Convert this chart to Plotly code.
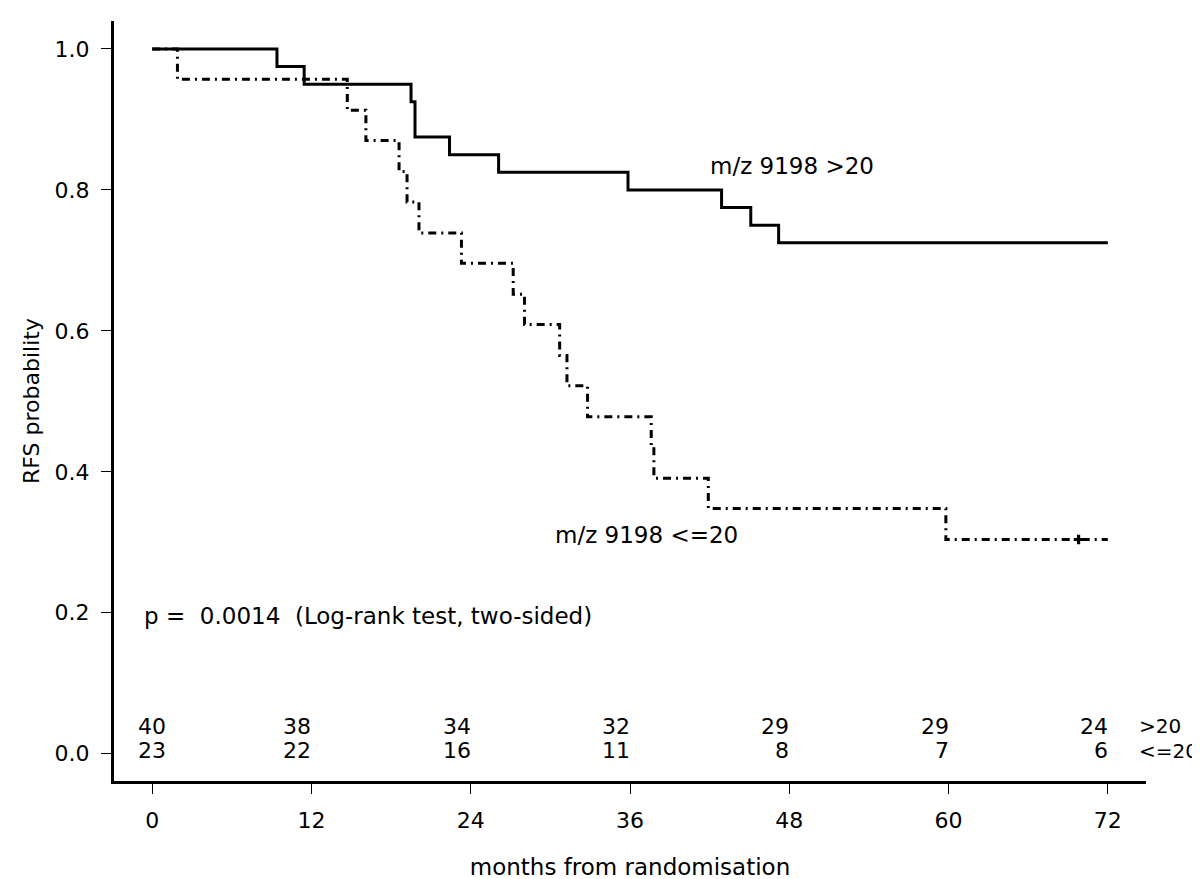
import plotly.graph_objects as go

# ---- data ----
hi_times = [0, 9.4, 11.45, 19.5, 19.8, 22.4, 26.1, 35.85, 42.9, 45.1, 47.2, 72]
hi_surv = [1.0, 0.975, 0.95, 0.925, 0.875, 0.85, 0.825, 0.80, 0.775, 0.75, 0.725, 0.725]

lo_times = [0, 1.9, 14.7, 16.1, 18.6, 19.2, 20.1, 23.3, 27.2, 28.05, 30.7, 31.25,
            32.8, 37.6, 37.8, 41.9, 59.8, 72]
lo_surv = [1.0, 0.957, 0.913, 0.870, 0.826, 0.783, 0.739, 0.696, 0.652, 0.609, 0.565,
           0.522, 0.478, 0.435, 0.391, 0.348, 0.304, 0.304]

lo_censor_t = [69.8]
lo_censor_s = [0.304]

risk_times = [0, 12, 24, 36, 48, 60, 72]
risk_hi = [40, 38, 34, 32, 29, 29, 24]
risk_lo = [23, 22, 16, 11, 8, 7, 6]
risk_labels = [">20", "<=20"]

x_ticks = [0, 12, 24, 36, 48, 60, 72]
y_ticks = [0.0, 0.2, 0.4, 0.6, 0.8, 1.0]

FONT = "DejaVu Sans"
FS = 22

fig = go.Figure()
fig.add_trace(go.Scatter(x=hi_times, y=hi_surv, mode="lines", line_shape="hv",
                         line=dict(color="black", width=3), showlegend=False))
fig.add_trace(go.Scatter(x=lo_times, y=lo_surv, mode="lines", line_shape="hv",
                         line=dict(color="black", width=3, dash="8px,5px,2px,5px"),
                         showlegend=False))
fig.add_trace(go.Scatter(x=lo_censor_t, y=lo_censor_s, mode="markers",
                         marker=dict(symbol="cross", size=8, color="black"),
                         showlegend=False))

ann = []
for t, a, b in zip(risk_times, risk_hi, risk_lo):
    xa = "center" if t == 0 else "right"
    xs = 0 if t == 0 else 2
    ann.append(dict(x=t, y=0.039, text=str(a), xanchor=xa, yanchor="middle",
                    showarrow=False, xshift=xs))
    ann.append(dict(x=t, y=0.004, text=str(b), xanchor=xa, yanchor="middle",
                    showarrow=False, xshift=xs))
ann.append(dict(x=74.5, y=0.039, text=risk_labels[0], xanchor="left", yanchor="middle",
                showarrow=False, xshift=-4, font=dict(size=20)))
ann.append(dict(x=74.5, y=0.004, text=risk_labels[1], xanchor="left", yanchor="middle",
                showarrow=False, xshift=-4, font=dict(size=20)))
ann.append(dict(x=41.9, y=0.834, text="m/z 9198 >20", xanchor="left", yanchor="middle",
                showarrow=False, font=dict(size=23)))
ann.append(dict(x=30.2, y=0.311, text="m/z 9198 <=20", xanchor="left", yanchor="middle",
                showarrow=False, font=dict(size=23)))
ann.append(dict(x=-0.75, y=0.195,
                text="p =\u00a0\u00a00.0014\u00a0\u00a0(Log-rank test, two-sided)",
                xanchor="left", yanchor="middle", showarrow=False, font=dict(size=23)))

fig.update_layout(
    width=1200, height=879,
    template="none",
    paper_bgcolor="white", plot_bgcolor="white",
    margin=dict(l=106, r=62, t=13, b=106, autoexpand=False),
    font=dict(family=FONT, size=FS, color="black"),
    annotations=ann,
    xaxis=dict(range=[-2.88, 74.88], tickvals=x_ticks, ticktext=[str(v) for v in x_ticks],
               showline=True, linewidth=3, linecolor="black", mirror=False,
               ticks="outside", ticklen=10, tickwidth=1, tickcolor="black",
               showgrid=False, zeroline=False, automargin=False,
               title=dict(text="months from randomisation", standoff=27,
                          font=dict(size=23)),
               ticklabelstandoff=8),
    yaxis=dict(range=[-0.0387, 1.0397], tickvals=y_ticks, ticktext=[f"{v:.1f}" for v in y_ticks],
               showline=True, linewidth=3, linecolor="black", mirror=False,
               ticks="outside", ticklen=10, tickwidth=1, tickcolor="black",
               showgrid=False, zeroline=False, automargin=False,
               title=dict(text="RFS probability", standoff=9, font=dict(size=22)),
               ticklabelstandoff=7),
)

fig.write_html("out.html")
